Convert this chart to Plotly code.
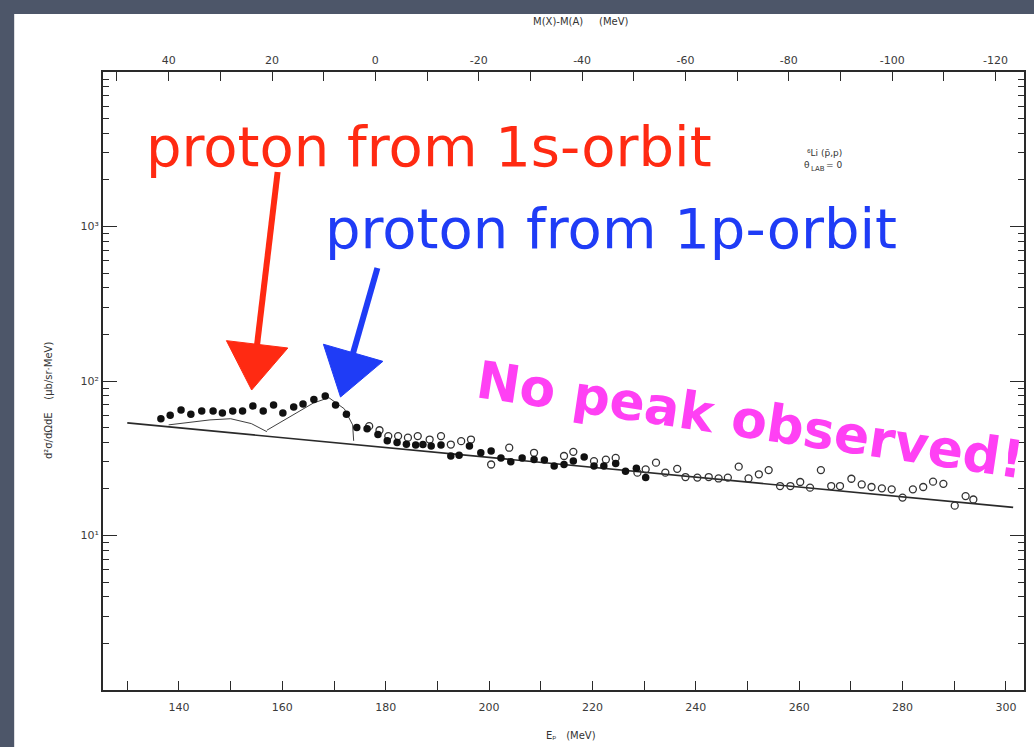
import plotly.graph_objects as go
import numpy as np

# ---------------- data ----------------
filled_E = [136.5, 138.3, 140.4, 142.3, 144.4, 146.6, 148.4, 150.4, 152.3, 154.3,
            156.3, 158.3, 160.1, 162.2, 164.0, 166.1, 168.3, 170.3, 172.4, 174.4,
            176.4, 178.5, 180.3, 182.2, 184.0, 185.8, 187.2, 188.8, 190.7, 192.6,
            194.2, 196.2, 198.4, 200.4, 202.3, 204.2, 206.4, 208.7, 210.7, 212.6,
            214.5, 216.3, 218.4, 220.3, 222.2, 224.5, 226.4, 228.5, 230.3]
filled_y = [57, 60, 65, 61, 64, 64, 62, 64, 64, 69,
            64, 70, 62, 68, 71, 76, 80, 70, 61, 50,
            49, 45, 41, 40, 39, 38.5, 38.8, 37.9, 38.5, 32.7,
            33.1, 37.9, 34.3, 35.2, 31.8, 30, 31.8, 31, 30.8, 28.2,
            28.8, 30.3, 32.2, 28.2, 28.2, 29.2, 26.1, 27.2, 23.7]

open_E = [176.8, 178.8, 180.5, 182.4, 184.3, 186.2, 188.5, 190.7, 192.6, 194.6,
          196.5, 200.4, 203.9, 208.7, 214.5, 216.3, 220.3, 222.6, 224.5, 228.7,
          230.3, 232.3, 234.1, 236.4, 238.0, 240.3, 242.5, 244.4, 246.2, 248.3,
          250.2, 252.2, 254.1, 256.3, 258.3, 260.2, 262.1, 264.2, 266.2, 267.9,
          270.1, 272.1, 274.0, 276.0, 277.9, 280.0, 282.0, 284.0, 285.9, 287.9,
          290.1, 292.2, 293.7]
open_y = [51, 48, 44, 44, 43, 44, 41.8, 44, 38.8, 40.8,
          41.8, 28.8, 37, 34.3, 32.7, 34.8, 30.3, 31, 31.8, 25.5,
          26.8, 29.6, 25.5, 27, 23.9, 23.7, 23.9, 23.4, 23.7, 27.9,
          23.4, 24.9, 26.5, 20.9, 20.9, 22.2, 20.4, 26.5, 20.9, 20.9,
          23.3, 21.4, 20.6, 20.2, 19.9, 17.6, 19.9, 20.6, 22.3, 21.6,
          15.6, 18, 17.1]

baseline_E = [130, 301.4]
baseline_y = [53.6, 15.2]

fit1s_E = [138, 142, 146, 150, 154, 157]
fit1s_y = [52, 54, 56, 57, 53, 47]
fit1p_E = [157, 160, 163, 166, 169, 172, 173.6, 173.8]
fit1p_y = [48, 55, 63, 72, 78, 66, 52, 41]

bottom_labels = list(range(140, 301, 20))
bottom_minor = list(range(130, 301, 20))
top_labels = list(range(-120, 41, 20))
top_minor = list(range(-110, 51, 20))
y_major = [10, 100, 1000]
y_major_text = ["10¹", "10²", "10³"]
mass_offset = 178.0   # M(X)-M(A) = 178 - Ep

# ---------------- figure ----------------
W, H = 1034, 747
L, R, T, B = 103, 8, 72, 57
pw, ph = W - L - R, H - T - B

def px(xp):
    return (xp - L) / pw

def py(yp):
    return (H - B - yp) / ph

ink = "#2a2a2a"
tickfont = dict(family="DejaVu Sans", size=11, color="#3a3a3a")

fig = go.Figure()

fig.add_trace(go.Scatter(x=baseline_E, y=baseline_y, mode="lines",
                         line=dict(color=ink, width=1.6), showlegend=False))
fig.add_trace(go.Scatter(x=fit1s_E, y=fit1s_y, mode="lines",
                         line=dict(color=ink, width=0.9), showlegend=False))
fig.add_trace(go.Scatter(x=fit1p_E, y=fit1p_y, mode="lines",
                         line=dict(color=ink, width=0.9), showlegend=False))
fig.add_trace(go.Scatter(x=open_E, y=open_y, mode="markers",
                         marker=dict(symbol="circle-open", size=7, color="#333",
                                     line=dict(width=1.3, color="#333")),
                         showlegend=False))
fig.add_trace(go.Scatter(x=filled_E, y=filled_y, mode="markers",
                         marker=dict(symbol="circle", size=7.5, color="#111"),
                         showlegend=False))
# invisible trace for the top axis
fig.add_trace(go.Scatter(x=[mass_offset - 200], y=[30], xaxis="x2", yaxis="y",
                         mode="markers", marker=dict(opacity=0), showlegend=False,
                         hoverinfo="skip"))

xr = [125.3, 303.5]
minor_y = [m * 10 ** d for d in range(0, 4) for m in range(2, 10)]

fig.update_layout(
    width=W, height=H,
    margin=dict(l=L, r=R, t=T, b=B),
    paper_bgcolor="#4d5669",
    plot_bgcolor="white",
    xaxis=dict(range=xr, tickmode="array", tickvals=bottom_labels,
               ticktext=[str(v) for v in bottom_labels],
               ticks="inside", ticklen=9, tickwidth=1.4, tickcolor=ink,
               ticklabelstandoff=6,
               minor=dict(tickmode="array", tickvals=bottom_minor, ticks="inside",
                          ticklen=9, tickwidth=1.4, tickcolor=ink, showgrid=False),
               showline=True, linecolor=ink, linewidth=1.6, mirror=False,
               showgrid=False, zeroline=False, tickfont=tickfont),
    xaxis2=dict(range=[mass_offset - xr[0], mass_offset - xr[1]], overlaying="x",
                side="top", anchor="y", tickmode="array", tickvals=top_labels,
                ticktext=[str(v) for v in top_labels],
                ticks="inside", ticklen=9, tickwidth=1.4, tickcolor=ink,
                ticklabelstandoff=2,
                minor=dict(tickmode="array", tickvals=top_minor, ticks="inside",
                           ticklen=9, tickwidth=1.4, tickcolor=ink, showgrid=False),
                showline=True, linecolor=ink, linewidth=1.6,
                showgrid=False, zeroline=False, tickfont=tickfont),
    yaxis=dict(type="log", range=[0, 4], tickmode="array", tickvals=y_major,
               ticktext=y_major_text, ticks="inside", ticklen=14, tickwidth=1.4,
               tickcolor=ink, showline=True, linecolor=ink, linewidth=1.6,
               mirror="ticks", showgrid=False, zeroline=False, tickfont=tickfont,
               minor=dict(tickmode="array", tickvals=minor_y, ticks="inside",
                          ticklen=6, tickwidth=1.2, tickcolor=ink, showgrid=False)),
)

shapes = []
# white scanned page
shapes.append(dict(type="rect", xref="paper", yref="paper",
                   x0=px(14), x1=px(W + 5), y0=py(H + 5), y1=py(14),
                   fillcolor="white", line=dict(width=0), layer="below"))


def arrow(x_start, y_start, x_tip, y_tip, color, head_len=46, head_w=62, width=6):
    dx, dy = x_tip - x_start, y_tip - y_start
    n = (dx * dx + dy * dy) ** 0.5
    ux, uy = dx / n, dy / n
    bx, by = x_tip - head_len * ux, y_tip - head_len * uy
    qx, qy = -uy, ux
    c1 = (bx + qx * head_w / 2, by + qy * head_w / 2)
    c2 = (bx - qx * head_w / 2, by - qy * head_w / 2)
    out = [dict(type="line", xref="paper", yref="paper",
                x0=px(x_start), y0=py(y_start), x1=px(bx + 4 * ux), y1=py(by + 4 * uy),
                line=dict(color=color, width=width))]
    path = "M {:.4f} {:.4f} L {:.4f} {:.4f} L {:.4f} {:.4f} Z".format(
        px(x_tip), py(y_tip), px(c1[0]), py(c1[1]), px(c2[0]), py(c2[1]))
    out.append(dict(type="path", xref="paper", yref="paper", path=path,
                    fillcolor=color, line=dict(color=color, width=1)))
    return out


red, blue, mag = "#ff2a12", "#1f3cf6", "#ff40f4"
shapes += arrow(278, 172, 252, 390, red)
shapes += arrow(378, 268, 341, 397, blue)
fig.update_layout(shapes=shapes)


def note(text, xp, yp, size, color, angle=0, family="DejaVu Sans", xanchor="center"):
    return dict(text=text, x=px(xp), y=py(yp), xref="paper", yref="paper",
                xanchor=xanchor, yanchor="middle", showarrow=False, borderpad=0,
                textangle=angle, font=dict(family=family, size=size, color=color))

ann = []
# axis titles
ann.append(note("M(X)-M(A)&nbsp;&nbsp;&nbsp;&nbsp;&nbsp;(MeV)", 582, 22, 10, "#333"))
ann.append(note("Eₚ&nbsp;&nbsp;&nbsp;(MeV)", 572, 735, 10, "#333"))
ann.append(note("d²σ/dΩdE&nbsp;&nbsp;&nbsp;&nbsp;(μb/sr·MeV)", 48, 400, 10, "#333", -90))
ann.append(note("⁶Li (p̄,p)", 826, 153, 9, "#333"))
# θ_LAB = 0 built from pieces (subscript drawn as smaller, lower text)
ann.append(note("θ", 813, 165, 9, "#333", xanchor="right"))
ann.append(note("LAB", 812, 169, 7, "#333", xanchor="left"))
ann.append(note("= 0", 827, 165, 9, "#333", xanchor="left"))

# hand-written annotations
ann.append(note("proton from 1s-orbit", 430, 147, 56, red))
ann.append(note("proton from 1p-orbit", 612, 228, 56, blue))
ann.append(note("<b>No peak observed!</b>", 752, 420, 52, mag, 8.5))
fig.update_layout(annotations=ann)

fig.write_html("out.html")
